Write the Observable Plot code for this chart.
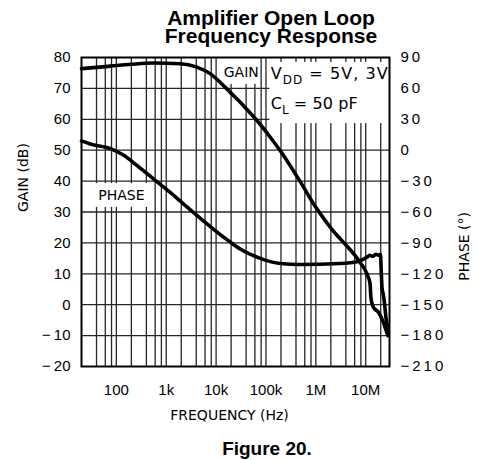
<!DOCTYPE html>
<html><head><meta charset="utf-8">
<script src="https://cdn.jsdelivr.net/npm/d3@7"></script>
<script src="https://cdn.jsdelivr.net/npm/@observablehq/plot@0.6"></script>
<style>
body{margin:0;background:#fff;width:477px;height:460px;position:relative;overflow:hidden}
.title{position:absolute;z-index:2;left:271px;transform:translateX(-50%);font:bold 21px "Liberation Sans",Arial,sans-serif;line-height:18px;height:18px;text-align:center;white-space:nowrap;color:#000}
#t1{top:9px}
#t2{top:27px}
#chart{position:absolute;z-index:1;left:0;top:45px}
#caption{position:absolute;left:267px;top:437px;transform:translateX(-50%);font:bold 19px "Liberation Sans",Arial,sans-serif;line-height:24px;white-space:nowrap;color:#000}
</style></head><body>
<div class="title" id="t1">Amplifier Open Loop</div>
<div class="title" id="t2">Frequency Response</div>
<div id="chart"></div>
<div id="caption">Figure 20.</div>
<script>
// ---- data ----
const gainFreq = [20, 40, 76, 200, 550, 1900, 4100, 7700, 12000, 19000, 35000, 66000, 122000, 200000, 500000, 1e6, 2.2e6, 3.3e6, 7.7e6, 10.5e6, 12.2e6, 12.7e6, 14.2e6, 17.9e6, 22.6e6, 26.4e6, 28e6];
const gainDb   = [76.4, 76.8, 77.2, 77.8, 78.2, 78.0, 76.9, 74.7, 72.0, 68.8, 64.5, 59.6, 54.2, 49.5, 39.5, 31.5, 24.0, 20.8, 13.7, 10.1, 6.9, 2.4, -0.8, -2.4, -5.7, -8.9, -10];
const phaseFreq = [20, 30, 76, 141, 261, 560, 1200, 2200, 4800, 9600, 19000, 30500, 76700, 193000, 484000, 3e6, 7e6, 10.5e6, 12e6, 14e6, 16e6, 18e6, 19.8e6, 20.5e6, 21.2e6, 22.5e6, 24e6, 25.5e6, 27e6, 28.5e6];
const phaseDeg  = [9, 6, 1.5, -5, -15, -28, -41, -52, -66, -78, -89, -96, -105, -110, -111, -110, -108, -104, -102, -103, -101, -102, -101, -118, -133, -140, -150, -163, -170, -178];

const freqTicks = [100, 1e3, 1e4, 1e5, 1e6, 1e7];
const freqTickLabels = ["100", "1k", "10k", "100k", "1M", "10M"];
const gainTicks = [80, 70, 60, 50, 40, 30, 20, 10, 0, -10, -20];
const phaseTicks = [90, 60, 30, 0, -30, -60, -90, -120, -150, -180, -210];
const freqGrid = [40, 60, 80, 100, 200, 400, 600, 800, 1e3, 2e3, 4e3, 6e3, 8e3, 1e4, 2e4, 4e4, 6e4, 8e4, 1e5, 2e5, 4e5, 6e5, 8e5, 1e6, 2e6, 4e6, 6e6, 8e6, 1e7, 2e7];
const gainGrid = [70, 60, 50, 40, 30, 20, 10, 0, -10];

// annotation boxes (white backgrounds) in data units: freq range, gain range
const boxF1 = [12500, 120000, 28];
const boxF2 = [70000, 3e7, 520];
const boxG1 = [71.3, 58.6, 31.5];
const boxG2 = [80, 78.4, 39.2];
const curveLabelText = ["GAIN", "PHASE"];
const curveLabelF = [31900, 126];
const curveLabelG = [75.3, 35.3];
const curveLabelLen = [36, 48];
const legendMain = ["V", "C"];
const legendSub = ["DD", "L"];
const legendRest = [" = 5V, 3V", " = 50 pF"];
const legendF = [127000, 127000];
const legendG = [72.9, 63.2];
const legendLen = [117, 87];

// ---- tables ----
const toGainAxis = p => (p + 150) / 3;        // phase axis shares the frame: 90° ↔ 80 dB, 30° per 10 dB
const gainData = gainFreq.map((f, i) => ({f, db: gainDb[i]}));
const phaseData = phaseFreq.map((f, i) => ({f, deg: phaseDeg[i]}));
const boxes = boxF1.map((f1, i) => ({f1, f2: boxF2[i], g1: boxG1[i], g2: boxG2[i]}));
const curveLabels = curveLabelText.map((t, i) => ({t, f: curveLabelF[i], g: curveLabelG[i]}));
const fmtLeft = d => d < 0 ? "\u2212\u2009" + (-d) : String(d);
const fmtRight = d => d < 0 ? "\u2212" + (-d) : String(d);
const LBL = "DejaVu Sans, sans-serif";

const plot = Plot.plot({
  width: 477, height: 387,
  marginTop: 12, marginBottom: 66, marginLeft: 81, marginRight: 88,
  style: {fontFamily: '"Liberation Sans", Arial, sans-serif', fontSize: "15px", color: "black", background: "transparent"},
  x: {type: "log", domain: [20, 3e7]},
  y: {domain: [-20, 80]},
  marks: [
    Plot.ruleX(freqGrid, {stroke: "#262626", strokeWidth: 1.3}),
    Plot.ruleY(gainGrid, {stroke: "#262626", strokeWidth: 1.3}),
    Plot.rect(boxes, {x1: "f1", x2: "f2", y1: "g1", y2: "g2", fill: "white"}),
    Plot.text(curveLabels, {x: "f", y: "g", text: "t", fontFamily: LBL, fontSize: 14, fill: "black", ariaLabel: "curve-labels"}),
    Plot.line(phaseData, {x: "f", y: d => toGainAxis(d.deg), stroke: "black", strokeWidth: 3.6, curve: "monotone-x", strokeLinejoin: "round"}),
    Plot.line(gainData, {x: "f", y: "db", stroke: "black", strokeWidth: 3.6, curve: "monotone-x", strokeLinejoin: "round"}),
    Plot.frame({stroke: "black", strokeWidth: 2}),
    Plot.axisX({ticks: freqTicks, tickSize: 0, tickPadding: 18, tickFormat: d => freqTickLabels[freqTicks.indexOf(d)], label: null, fill: "black"}),
    Plot.axisY({anchor: "left", ticks: gainTicks, tickSize: 0, tickPadding: 11, tickFormat: fmtLeft, label: null, fill: "black"}),
    Plot.axisY({anchor: "right", ticks: phaseTicks.map(toGainAxis), tickSize: 0, tickPadding: 11, tickFormat: d => fmtRight(3 * d - 150), label: null, fill: "black"}),
    Plot.text(["GAIN (dB)"], {text: d => d, frameAnchor: "left", dx: -58, rotate: -90, fontFamily: LBL, fontSize: 14, fill: "black", ariaLabel: "label-gain"}),
    Plot.text(["PHASE (°)"], {text: d => d, frameAnchor: "right", dx: 75, rotate: -90, fontFamily: LBL, fontSize: 14, fill: "black", ariaLabel: "label-phase"}),
    Plot.text(["FREQUENCY (Hz)"], {text: d => d, frameAnchor: "bottom", dy: 53, dx: -6, fontFamily: LBL, fontSize: 14, fill: "black", ariaLabel: "label-freq"})
  ]
});
document.getElementById("chart").appendChild(plot);

const svg = d3.select(plot);
const fit = (sel, len) => sel.attr("textLength", len).attr("lengthAdjust", "spacingAndGlyphs");
fit(svg.select('g[aria-label="label-gain"] text'), 87);
fit(svg.select('g[aria-label="label-phase"] text'), 85);
fit(svg.select('g[aria-label="label-freq"] text'), 122);
svg.selectAll('g[aria-label="curve-labels"] text').each(function(d, i) { fit(d3.select(this), curveLabelLen[i]); });
svg.selectAll('g[aria-label="y-axis tick label"]').each(function() {
  if (this.getAttribute("text-anchor") === "start") d3.select(this).style("letter-spacing", "3px");
});

// legend text with subscripts, placed through the plot's scales
const xs = plot.scale("x"), ys = plot.scale("y");
const X = xs.apply ? v => xs.apply(v) : d3.scaleLog(xs.domain, xs.range);
const Y = ys.apply ? v => ys.apply(v) : d3.scaleLinear(ys.domain, ys.range);
const lg = svg.append("g").attr("font-family", LBL).attr("fill", "black").attr("text-anchor", "start");
legendMain.forEach((m, i) => {
  const t = lg.append("text").attr("x", X(legendF[i])).attr("y", Y(legendG[i]))
    .attr("font-size", 16).attr("textLength", legendLen[i]).attr("lengthAdjust", "spacing");
  t.append("tspan").text(m);
  t.append("tspan").attr("font-size", 12).attr("dy", 5).text(legendSub[i]);
  t.append("tspan").attr("dy", -5).attr("xml:space", "preserve").text(legendRest[i]);
});
</script>
</body></html>
